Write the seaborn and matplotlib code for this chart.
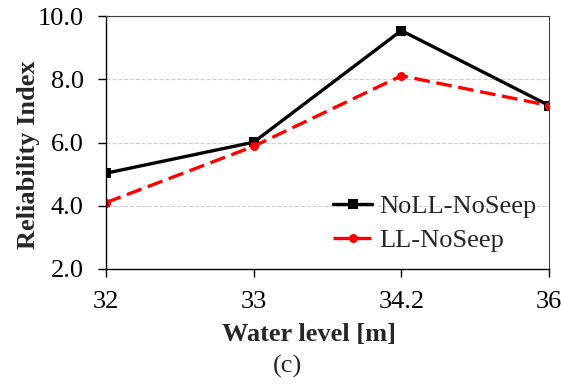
import pandas as pd
import matplotlib
matplotlib.use("Agg")
import matplotlib.pyplot as plt
import seaborn as sns

# --------------------------
# Chart data
# --------------------------
water_levels = ["32", "33", "34.2", "36"]
noll_noseep = [5.03, 6.01, 9.54, 7.17]
ll_noseep = [4.10, 5.88, 8.11, 7.17]
series_names = ["NoLL-NoSeep", "LL-NoSeep"]
y_ticks = [2.0, 4.0, 6.0, 8.0, 10.0]

df = pd.concat([
    pd.DataFrame({"level": water_levels, "ri": noll_noseep, "series": series_names[0]}),
    pd.DataFrame({"level": water_levels, "ri": ll_noseep, "series": series_names[1]}),
], ignore_index=True)

sns.set_style("white")
plt.rcParams["font.family"] = ["Liberation Serif", "DejaVu Serif"]
FS = 19

fig = plt.figure(figsize=(5.62, 3.85), dpi=100)
ax = fig.add_axes([0.1886, 0.3013, 0.7883, 0.6571])

sns.lineplot(
    data=df, x="level", y="ri", hue="series", style="series",
    palette={"NoLL-NoSeep": "black", "LL-NoSeep": "#ff0000"},
    markers={"NoLL-NoSeep": "s", "LL-NoSeep": "o"},
    dashes={"NoLL-NoSeep": "", "LL-NoSeep": (4.7, 2.0)},
    linewidth=2.4, markersize=6.5, markeredgewidth=0,
    sort=False, ax=ax,
)

ax.set_xlim(0, len(water_levels) - 1)
ax.set_ylim(y_ticks[0], y_ticks[-1])
ax.set_yticks(y_ticks)
ax.set_yticklabels([f"{v:.1f}" for v in y_ticks])
ax.grid(axis="y", color="#d0d0d0", linestyle="--", linewidth=0.8)
ax.set_axisbelow(True)

for side in ["left", "bottom"]:
    ax.spines[side].set_color("black")
    ax.spines[side].set_linewidth(1.0)
for side in ["top", "right"]:
    ax.spines[side].set_color("#404040")
    ax.spines[side].set_linewidth(0.8)

ax.tick_params(axis="both", direction="out", length=6, width=1.0,
               labelsize=FS, colors="black", left=True, bottom=True)
ax.tick_params(axis="x", pad=10)
ax.tick_params(axis="y", pad=10)

ax.set_xlabel("Water level [m]", fontsize=FS, fontweight="bold")
ax.set_ylabel("Reliability Index", fontsize=FS, fontweight="bold")
ax.xaxis.set_label_coords(0.458, -0.215)
ax.yaxis.set_label_coords(-0.15, 0.45)

handles, labels = ax.get_legend_handles_labels()
ax.legend(handles, labels, loc="center left", bbox_to_anchor=(0.512, 0.18),
          frameon=False, fontsize=FS, handlelength=1.5, handletextpad=0.25,
          labelspacing=0.4, borderaxespad=0, borderpad=0)

fig.text(0.511, 0.047, "(c)", ha="center", va="center", fontsize=FS)

fig.savefig("out.png", dpi=100)
